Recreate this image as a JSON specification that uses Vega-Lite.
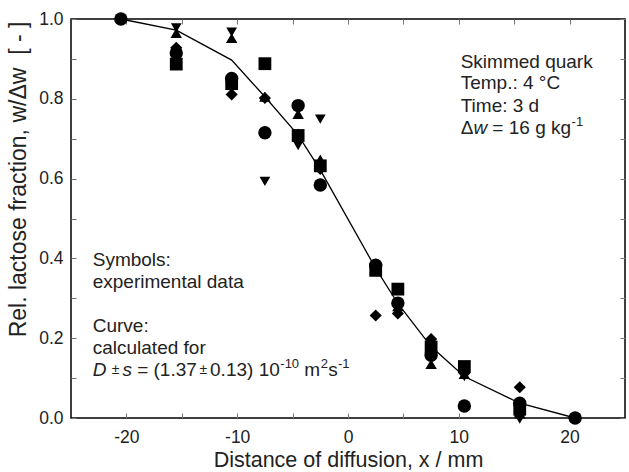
{
  "$schema": "https://vega.github.io/schema/vega-lite/v6.json",
  "width": 554,
  "height": 399,
  "autosize": {"type": "none"},
  "padding": {"left": 71, "top": 19, "right": 4, "bottom": 54},
  "background": "white",
  "config": {
    "view": {"stroke": "black", "strokeWidth": 1.5},
    "font": "Liberation Sans",
    "axis": {"grid": false, "domain": false, "ticks": true, "zindex": 1, "offset": -5, "labelFont": "Liberation Sans", "titleFont": "Liberation Sans", "labelColor": "#222", "titleColor": "#222", "tickColor": "#777", "tickWidth": 1, "tickSize": 5, "labelFontSize": 17.5, "titleFontSize": 21.5, "titleFontWeight": "normal"},
    "text": {"font": "Liberation Sans", "color": "#222", "align": "left", "baseline": "middle"}
  },
  "datasets": {
    "points": [
      {"x": -20.5, "y": 1.0, "s": "circle"},
      {"x": -15.5, "y": 0.978, "s": "triangle-down"},
      {"x": -10.5, "y": 0.967, "s": "triangle-down"},
      {"x": -7.5, "y": 0.593, "s": "triangle-down"},
      {"x": -4.5, "y": 0.683, "s": "triangle-down"},
      {"x": -2.5, "y": 0.749, "s": "triangle-down"},
      {"x": 2.5, "y": 0.368, "s": "triangle-down"},
      {"x": 4.5, "y": 0.275, "s": "triangle-down"},
      {"x": 7.5, "y": 0.168, "s": "triangle-down"},
      {"x": 10.5, "y": 0.104, "s": "triangle-down"},
      {"x": 15.5, "y": -0.003, "s": "triangle-down"},
      {"x": -15.5, "y": 0.965, "s": "triangle-up"},
      {"x": -10.5, "y": 0.952, "s": "triangle-up"},
      {"x": -7.5, "y": 0.805, "s": "triangle-up"},
      {"x": -4.5, "y": 0.762, "s": "triangle-up"},
      {"x": -2.5, "y": 0.648, "s": "triangle-up"},
      {"x": 2.5, "y": 0.372, "s": "triangle-up"},
      {"x": 4.5, "y": 0.28, "s": "triangle-up"},
      {"x": 7.5, "y": 0.135, "s": "triangle-up"},
      {"x": 10.5, "y": 0.11, "s": "triangle-up"},
      {"x": 15.5, "y": 0.012, "s": "triangle-up"},
      {"x": -15.5, "y": 0.887, "s": "square"},
      {"x": -10.5, "y": 0.838, "s": "square"},
      {"x": -7.5, "y": 0.888, "s": "square"},
      {"x": -4.5, "y": 0.708, "s": "square"},
      {"x": -2.5, "y": 0.632, "s": "square"},
      {"x": 2.5, "y": 0.37, "s": "square"},
      {"x": 4.5, "y": 0.323, "s": "square"},
      {"x": 7.5, "y": 0.178, "s": "square"},
      {"x": 10.5, "y": 0.129, "s": "square"},
      {"x": 15.5, "y": 0.022, "s": "square"},
      {"x": -15.5, "y": 0.928, "s": "diamond"},
      {"x": -10.5, "y": 0.811, "s": "diamond"},
      {"x": -7.5, "y": 0.802, "s": "diamond"},
      {"x": -4.5, "y": 0.71, "s": "diamond"},
      {"x": -2.5, "y": 0.624, "s": "diamond"},
      {"x": 2.5, "y": 0.257, "s": "diamond"},
      {"x": 4.5, "y": 0.262, "s": "diamond"},
      {"x": 7.5, "y": 0.198, "s": "diamond"},
      {"x": 10.5, "y": 0.112, "s": "diamond"},
      {"x": 15.5, "y": 0.077, "s": "diamond"},
      {"x": -15.5, "y": 0.915, "s": "circle"},
      {"x": -10.5, "y": 0.851, "s": "circle"},
      {"x": -7.5, "y": 0.715, "s": "circle"},
      {"x": -4.5, "y": 0.783, "s": "circle"},
      {"x": -2.5, "y": 0.584, "s": "circle"},
      {"x": 2.5, "y": 0.383, "s": "circle"},
      {"x": 4.5, "y": 0.288, "s": "circle"},
      {"x": 7.5, "y": 0.157, "s": "circle"},
      {"x": 10.5, "y": 0.03, "s": "circle"},
      {"x": 15.5, "y": 0.037, "s": "circle"},
      {"x": 20.5, "y": 0.0, "s": "circle"}
    ],
    "curve": [
      {"x": -20.5, "y": 1.0},
      {"x": -15.5, "y": 0.972},
      {"x": -10.5, "y": 0.897},
      {"x": -7.5, "y": 0.805},
      {"x": -4.5, "y": 0.709},
      {"x": -2.5, "y": 0.622},
      {"x": 2.5, "y": 0.375},
      {"x": 4.5, "y": 0.287},
      {"x": 7.5, "y": 0.179},
      {"x": 10.5, "y": 0.104},
      {"x": 15.5, "y": 0.037},
      {"x": 20.5, "y": 0.0}
    ],
    "notes": [
      {"x": 10.17, "y": 0.893, "t": "Skimmed quark"},
      {"x": 10.17, "y": 0.839, "t": "Temp.: 4 °C"},
      {"x": 10.17, "y": 0.782, "t": "Time: 3 d"},
      {"x": 10.17, "y": 0.726, "t": "Δ"},
      {"x": 13.03, "y": 0.726, "t": "= 16 g kg"},
      {"x": -23.04, "y": 0.396, "t": "Symbols:"},
      {"x": -23.04, "y": 0.341, "t": "experimental data"},
      {"x": -23.04, "y": 0.231, "t": "Curve:"},
      {"x": -23.04, "y": 0.175, "t": "calculated for"},
      {"x": -19.03, "y": 0.12, "t": "= (1.37"},
      {"x": -12.45, "y": 0.12, "t": "0.13) 10"},
      {"x": -3.94, "y": 0.12, "t": "m"},
      {"x": -1.79, "y": 0.12, "t": "s"}
    ],
    "italic": [
      {"x": 11.32, "y": 0.726, "t": "w"},
      {"x": -23.04, "y": 0.12, "t": "D"},
      {"x": -20.36, "y": 0.12, "t": "s"}
    ],
    "plusminus": [
      {"x": -21.33, "y": 0.12, "t": "±"},
      {"x": -13.41, "y": 0.12, "t": "±"}
    ],
    "sup": [
      {"x": 20.18, "y": 0.726, "t": "-1"},
      {"x": -6.11, "y": 0.12, "t": "-10"},
      {"x": -2.46, "y": 0.12, "t": "2"},
      {"x": -0.9, "y": 0.12, "t": "-1"}
    ]
  },
  "layer": [
    {
      "data": {"name": "curve"},
      "mark": {"type": "line", "color": "black", "strokeWidth": 1.3},
      "encoding": {
        "x": {"field": "x", "type": "quantitative", "scale": {"domain": [-25, 25], "nice": false, "zero": false},
          "axis": {"orient": "bottom", "ticks": true, "values": [-20, -15, -10, -5, 0, 5, 10, 15, 20], "labelExpr": "datum.value % 10 === 0 ? '' + datum.value : ''", "labelPadding": 10, "title": "Distance of diffusion, x / mm", "titlePadding": 4}},
        "y": {"field": "y", "type": "quantitative", "scale": {"domain": [0, 1], "nice": false},
          "axis": {"orient": "left", "ticks": true, "values": [0, 0.1, 0.2, 0.3, 0.4, 0.5, 0.6, 0.7, 0.8, 0.9, 1.0], "format": ".1f", "labelExpr": "indexof(['0.0','0.2','0.4','0.6','0.8','1.0'], datum.label) >= 0 ? datum.label : ''", "labelPadding": 8, "title": "Rel. lactose fraction, w/Δw\u00a0\u00a0[\u00a0-\u00a0]", "titleFontSize": 23, "titleY": 160, "titlePadding": 8}}
      }
    },
    {
      "data": {"name": "points"},
      "mark": {"type": "point", "filled": true, "opacity": 1, "color": "black"},
      "encoding": {
        "x": {"field": "x", "type": "quantitative", "axis": {"orient": "top", "ticks": true, "values": [-20, -15, -10, -5, 0, 5, 10, 15, 20], "labels": false, "title": null}},
        "y": {"field": "y", "type": "quantitative", "axis": {"orient": "right", "ticks": true, "values": [0, 0.1, 0.2, 0.3, 0.4, 0.5, 0.6, 0.7, 0.8, 0.9, 1.0], "labels": false, "title": null}},
        "shape": {"field": "s", "type": "nominal", "legend": null, "scale": {"domain": ["circle", "square", "diamond", "triangle-up", "triangle-down"], "range": ["circle", "square", "diamond", "triangle-up", "triangle-down"]}},
        "size": {"field": "s", "type": "nominal", "legend": null, "scale": {"domain": ["circle", "square", "diamond", "triangle-up", "triangle-down"], "range": [180, 115, 150, 150, 150]}}
      }
    },
    {
      "data": {"name": "notes"},
      "mark": {"type": "text", "fontSize": 19},
      "encoding": {
        "x": {"field": "x", "type": "quantitative", "axis": null},
        "y": {"field": "y", "type": "quantitative", "axis": null},
        "text": {"field": "t"}
      }
    },
    {
      "data": {"name": "italic"},
      "mark": {"type": "text", "fontSize": 19, "fontStyle": "italic"},
      "encoding": {
        "x": {"field": "x", "type": "quantitative", "axis": null},
        "y": {"field": "y", "type": "quantitative", "axis": null},
        "text": {"field": "t"}
      }
    },
    {
      "data": {"name": "plusminus"},
      "mark": {"type": "text", "fontSize": 14},
      "encoding": {
        "x": {"field": "x", "type": "quantitative", "axis": null},
        "y": {"field": "y", "type": "quantitative", "axis": null},
        "text": {"field": "t"}
      }
    },
    {
      "data": {"name": "sup"},
      "mark": {"type": "text", "fontSize": 13, "dy": -6},
      "encoding": {
        "x": {"field": "x", "type": "quantitative", "axis": null},
        "y": {"field": "y", "type": "quantitative", "axis": null},
        "text": {"field": "t"}
      }
    }
  ],
  "resolve": {"axis": {"x": "independent", "y": "independent"}}
}
